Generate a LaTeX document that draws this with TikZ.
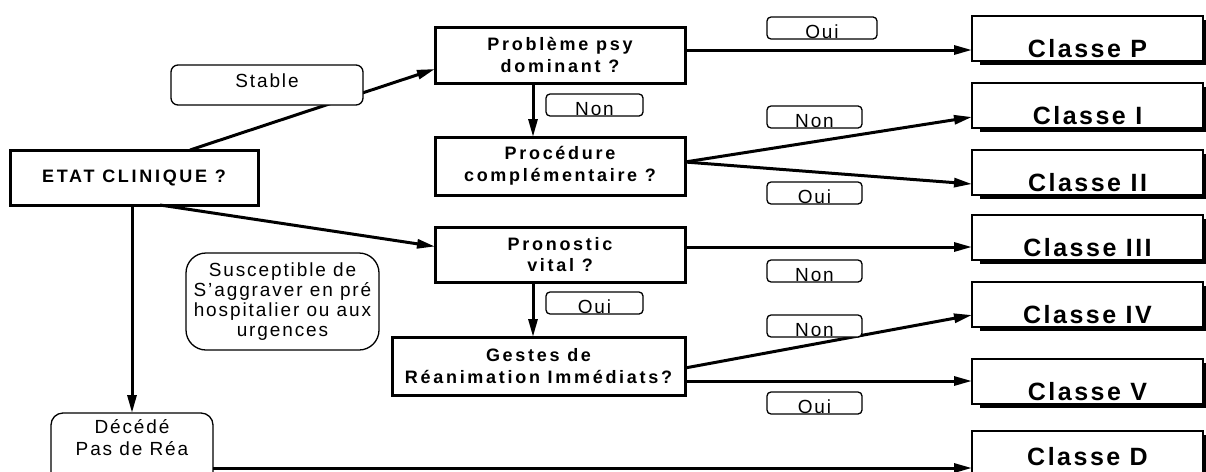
\documentclass[tikz,border=0pt]{standalone}
\usepackage{fontspec}
\setmainfont{Liberation Sans}[LetterSpace=10]
\newfontfamily\bsp{Liberation Sans}[LetterSpace=15]
\newfontfamily\csp{Liberation Sans}[LetterSpace=10]
\usetikzlibrary{arrows.meta,calc,shadows}
\begin{document}
\begin{tikzpicture}[x=1pt,y=-1pt,
  every node/.style={inner sep=0pt, outer sep=0pt},
  decision/.style={draw, line width=3pt, fill=white, align=center,
    font=\bsp\bfseries\fontsize{18}{21.5}\selectfont},
  classe/.style={draw, line width=1.4pt, fill=white, anchor=north west,
    minimum width=231pt, text height=41pt, text depth=4pt,
    general shadow={fill=black, draw=none, shadow xshift=8pt, shadow yshift=-4pt},
    font=\csp\bfseries\fontsize{25}{29}\selectfont},
  lab/.style={draw, line width=1.3pt, rounded corners=4pt, fill=white, anchor=north west,
    text height=21pt, text depth=1pt, font=\fontsize{19}{20}\selectfont},
  bubble/.style={draw, line width=1.3pt, fill=white, align=center,
    font=\fontsize{19}{20}\selectfont},
  arr/.style={line width=3pt, -{Triangle[length=18pt,width=9pt]}}
]
\useasboundingbox (0,0) rectangle (1206,471);
\clip (0,0) rectangle (1206,471);

% decision boxes
\node[decision, minimum width=248pt, minimum height=55pt] (etat) at (134,177.5) {ETAT CLINIQUE ?};
\node[decision, minimum width=250pt, minimum height=56pt] (prob) at (560,55) {Problème psy\\dominant ?};
\node[decision, minimum width=250pt, minimum height=58pt] (proc) at (560,166) {Procédure\\complémentaire ?};
\node[decision, minimum width=250pt, minimum height=55pt] (pron) at (560,254.5) {Pronostic\\vital ?};
\node[decision, minimum width=293pt, minimum height=58pt] (ges) at (538.5,366) {Gestes de\\Réanimation Immédiats?};

% Decede box
\node[bubble, rounded corners=12pt, anchor=north, minimum width=162pt,
  text height=20pt, text depth=70pt, font=\fontsize{19}{22}\selectfont] (dec) at (132,413)
  {\begin{tabular}[t]{@{}c@{}}Décédé\\Pas de Réa\end{tabular}};

% classes
\node[classe] (cP) at (972,16) {Classe P};
\node[classe] (cI) at (972,83) {Classe I};
\node[classe] (cII) at (972,150) {Classe II};
\node[classe] (cIII) at (972,215) {Classe III};
\node[classe] (cIV) at (972,282) {Classe IV};
\node[classe] (cV) at (972,359) {Classe V};
\node[classe, text height=34pt, text depth=20pt] (cD) at (972,431) {Classe D};

\coordinate (tP) at ($(cP.north west)+(0,34)$);
\coordinate (tI) at ($(cI.north west)+(0,34)$);
\coordinate (tII) at ($(cII.north west)+(0,34)$);
\coordinate (tIII) at ($(cIII.north west)+(0,32)$);
\coordinate (tIV) at ($(cIV.north west)+(0,33)$);
\coordinate (tV) at ($(cV.north west)+(0,22)$);
\coordinate (tD) at ($(cD.north west)+(0,37)$);

% connectors
\draw[arr] ($(etat.north west)+(180,0)$) -- ($(prob.west)+(0,14)$);
\draw[arr] ($(etat.south)+(26,0)$) -- ($(pron.west)+(0,-8)$);
\draw[arr] (etat.south -| dec.north) -- (dec.north);
\draw[arr] ($(prob.south)+(-27,0)$) coordinate (a1) -- (a1 |- proc.north);
\draw[arr] ($(pron.south)+(-27,0)$) coordinate (a2) -- (a2 |- ges.north);
\draw[arr] (prob.east |- tP) -- (tP);
\draw[arr] ($(proc.east)+(0,-4)$) -- (tI);
\draw[arr] ($(proc.east)+(0,-4)$) -- (tII);
\draw[arr] (pron.east |- tIII) -- (tIII);
\draw[arr] ($(ges.east)+(0,2)$) -- (tIV);
\draw[arr] (ges.east |- tV) -- (tV);
\draw[arr] (dec.east |- tD) -- (tD);

% labels
\node[lab, rounded corners=7pt, minimum width=192pt, text height=22pt, text depth=18pt] (stable) at (171,65) {Stable};
\node[bubble, rounded corners=20pt, minimum width=193pt, minimum height=97pt] (susc) at (282.5,301.5)
  {Susceptible de\\S'aggraver en pré\\hospitalier ou aux\\urgences};
\node[lab, minimum width=110pt] (oui1) at (767,17) {Oui};
\node[lab, minimum width=97pt] (non1) at (546,94) {Non};
\node[lab, minimum width=95pt] (non2) at (767,106) {Non};
\node[lab, minimum width=95pt] (oui2) at (767,182) {Oui};
\node[lab, minimum width=97pt] (oui3) at (546,292) {Oui};
\node[lab, minimum width=95pt] (non3) at (767,260) {Non};
\node[lab, minimum width=95pt] (non4) at (767,315) {Non};
\node[lab, minimum width=95pt] (oui4) at (767,392) {Oui};
\end{tikzpicture}
\end{document}
